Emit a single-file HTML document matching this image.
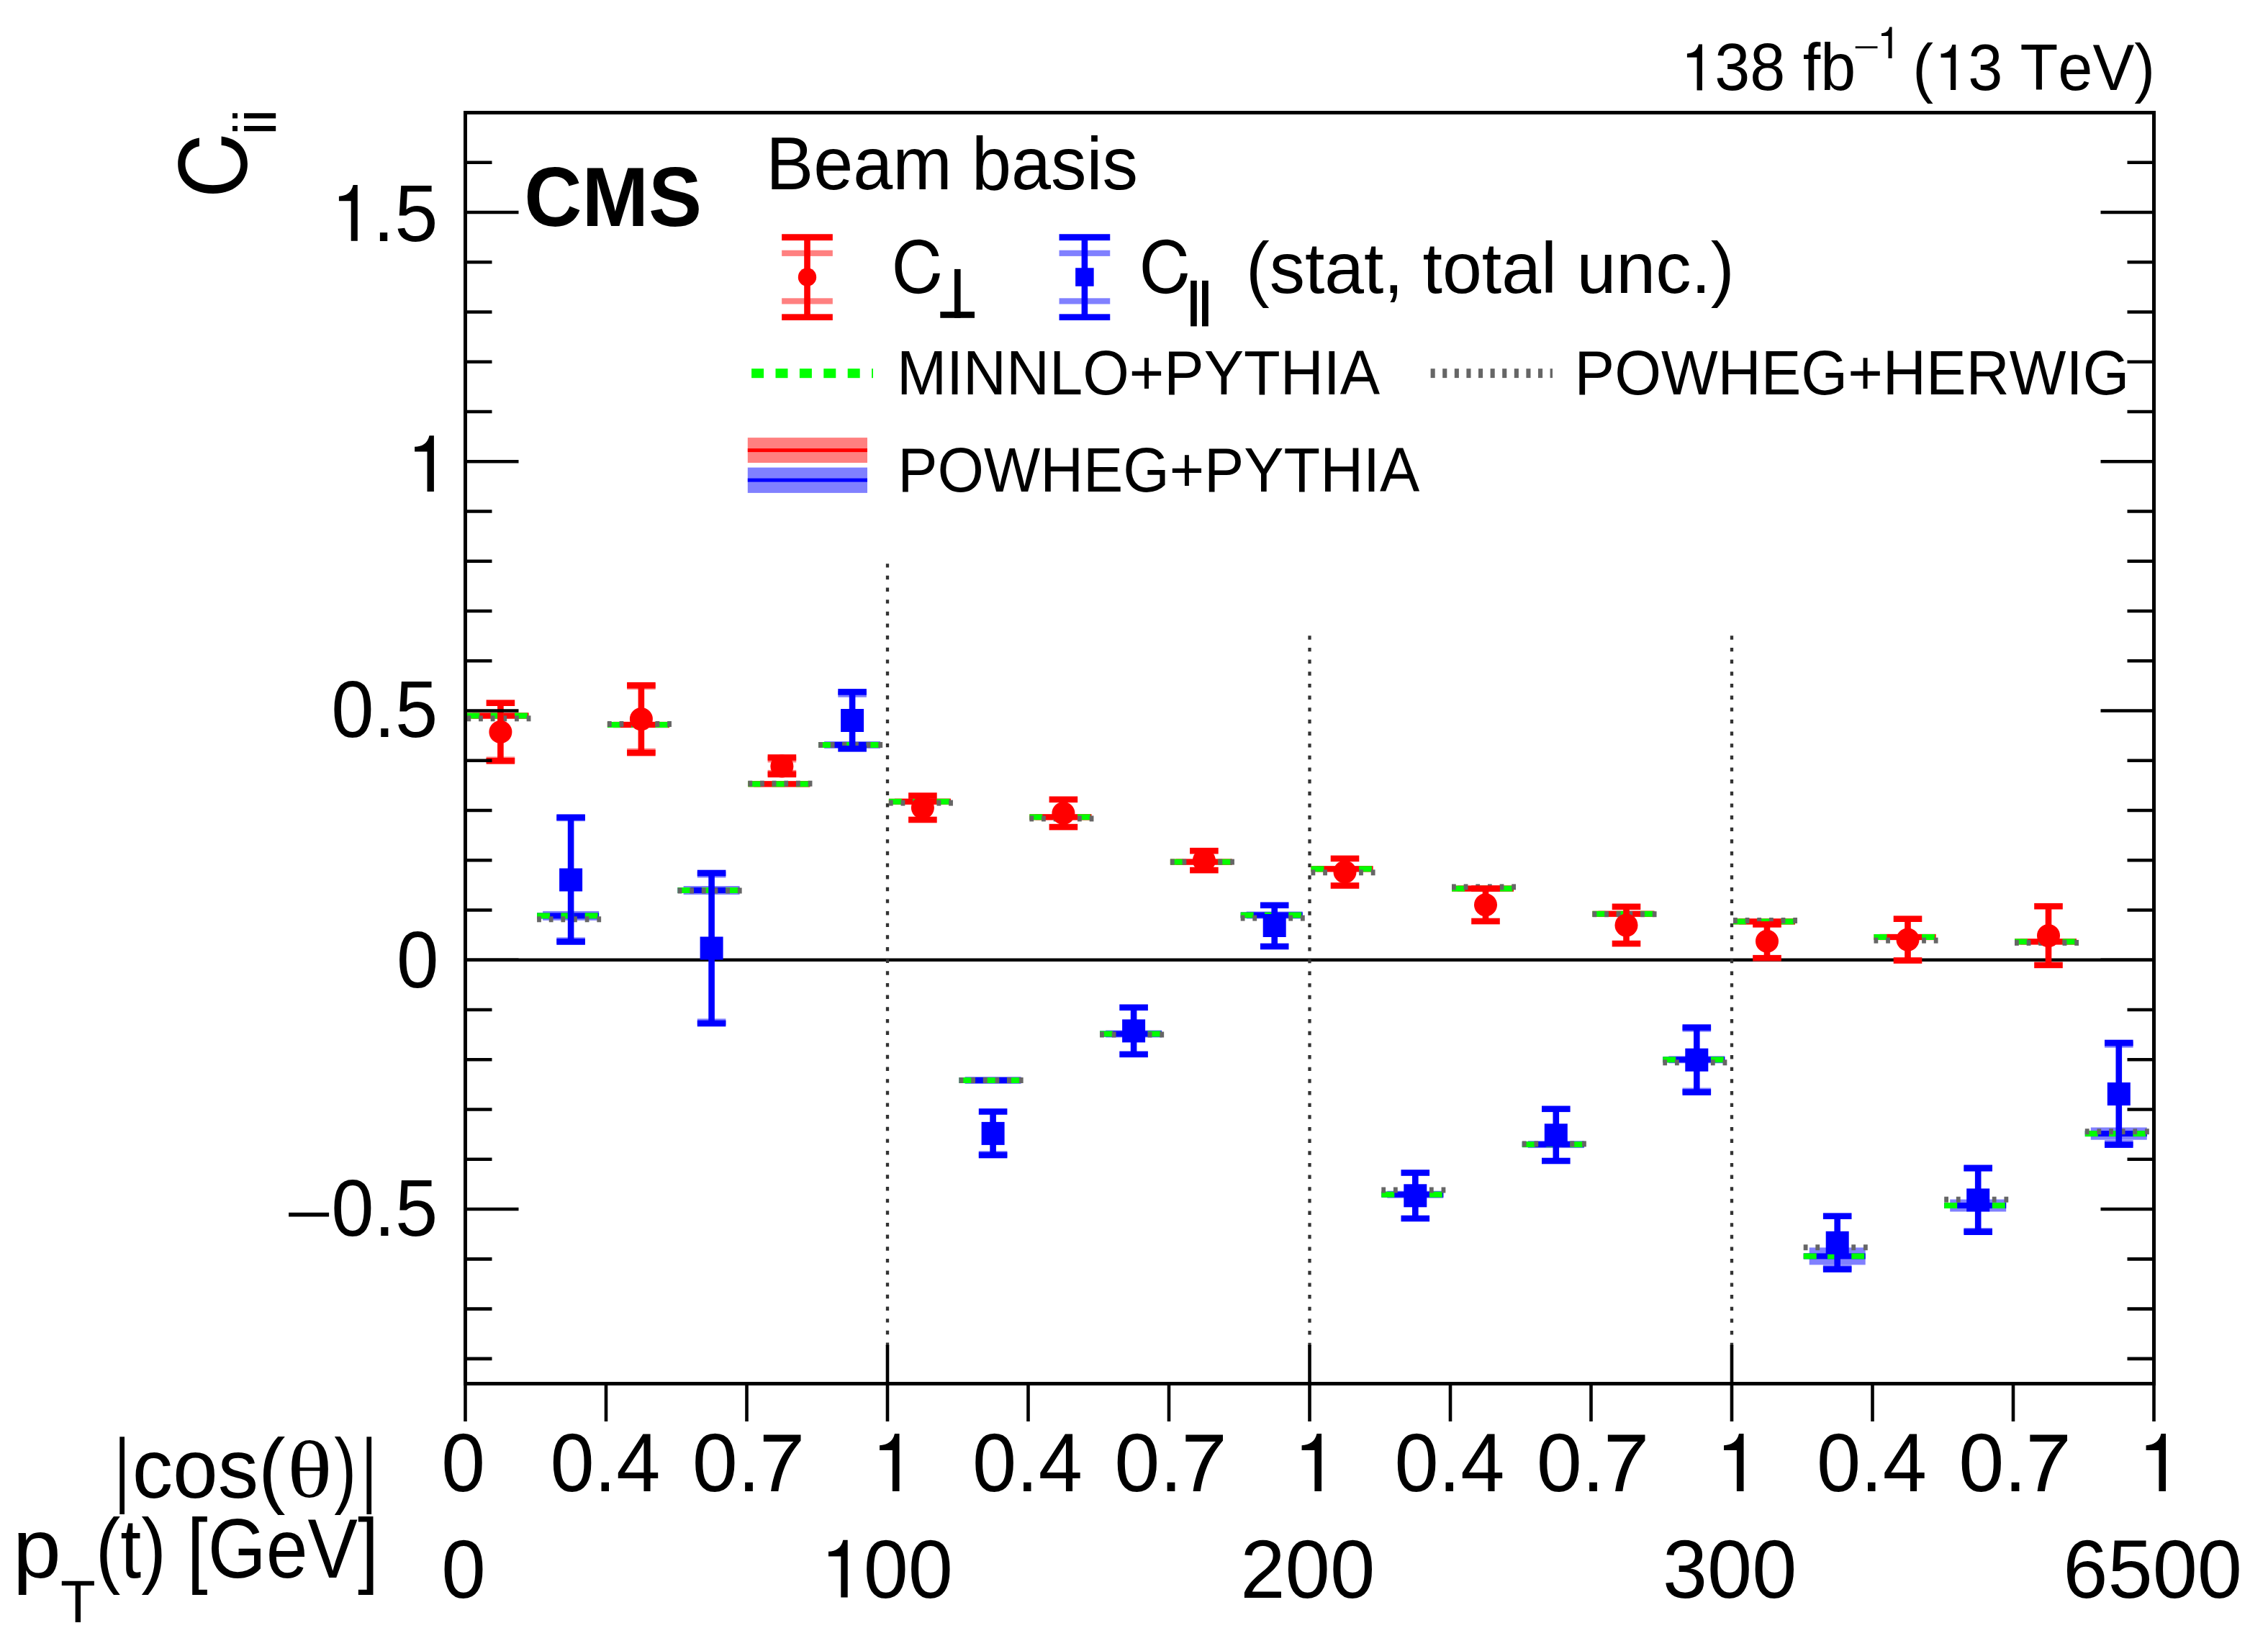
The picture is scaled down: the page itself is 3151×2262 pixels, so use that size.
<!DOCTYPE html>
<html><head><meta charset="utf-8"><title>CMS C_ii beam basis</title>
<style>
html,body{margin:0;padding:0;background:#fff;}
body{width:3151px;height:2262px;overflow:hidden;}
svg{display:block;}
text{font-kerning:none;}
</style></head>
<body>
<svg width="3151" height="2262" viewBox="0 0 3151 2262">
<rect x="0" y="0" width="3151" height="2262" fill="#fff"/>
<line x1="646.5" y1="1333.8" x2="2992.5" y2="1333.8" stroke="#000" stroke-width="4.6"/>
<line x1="1233.00" y1="783.2" x2="1233.00" y2="1870" stroke="#333" stroke-width="4.3" stroke-dasharray="5.4 11.25"/>
<line x1="1819.50" y1="883.3" x2="1819.50" y2="1870" stroke="#333" stroke-width="4.3" stroke-dasharray="5.4 11.25"/>
<line x1="2406.00" y1="883.3" x2="2406.00" y2="1870" stroke="#333" stroke-width="4.3" stroke-dasharray="5.4 11.25"/>
<rect x="656.40" y="990.20" width="78" height="8.60" fill="#ff8080"/>
<rect x="648.40" y="990.50" width="86.00" height="8.0" fill="#ff0000"/>
<rect x="648.40" y="990.50" width="18.00" height="8.0" fill="#00ff00"/>
<rect x="681.70" y="990.50" width="18.00" height="8.0" fill="#00ff00"/>
<rect x="715.00" y="990.50" width="18.00" height="8.0" fill="#00ff00"/>
<rect x="648.40" y="994.30" width="5.8" height="8.0" fill="#666666"/>
<rect x="665.05" y="994.30" width="5.8" height="8.0" fill="#666666"/>
<rect x="681.70" y="994.30" width="5.8" height="8.0" fill="#666666"/>
<rect x="698.35" y="994.30" width="5.8" height="8.0" fill="#666666"/>
<rect x="715.00" y="994.30" width="5.8" height="8.0" fill="#666666"/>
<rect x="731.65" y="994.30" width="5.8" height="8.0" fill="#666666"/>
<rect x="754.10" y="1265.90" width="78" height="13.00" fill="#8080ff"/>
<rect x="746.10" y="1268.40" width="86.00" height="8.0" fill="#0000ff"/>
<rect x="746.10" y="1268.40" width="18.00" height="8.0" fill="#00ff00"/>
<rect x="779.40" y="1268.40" width="18.00" height="8.0" fill="#00ff00"/>
<rect x="812.70" y="1268.40" width="18.00" height="8.0" fill="#00ff00"/>
<rect x="746.10" y="1273.30" width="5.8" height="8.0" fill="#666666"/>
<rect x="762.75" y="1273.30" width="5.8" height="8.0" fill="#666666"/>
<rect x="779.40" y="1273.30" width="5.8" height="8.0" fill="#666666"/>
<rect x="796.05" y="1273.30" width="5.8" height="8.0" fill="#666666"/>
<rect x="812.70" y="1273.30" width="5.8" height="8.0" fill="#666666"/>
<rect x="829.35" y="1273.30" width="5.8" height="8.0" fill="#666666"/>
<rect x="851.90" y="1002.70" width="78" height="8.60" fill="#ff8080"/>
<rect x="843.90" y="1003.00" width="86.00" height="8.0" fill="#ff0000"/>
<rect x="843.90" y="1003.00" width="18.00" height="8.0" fill="#00ff00"/>
<rect x="877.20" y="1003.00" width="18.00" height="8.0" fill="#00ff00"/>
<rect x="910.50" y="1003.00" width="18.00" height="8.0" fill="#00ff00"/>
<rect x="843.90" y="1002.00" width="5.8" height="8.0" fill="#666666"/>
<rect x="860.55" y="1002.00" width="5.8" height="8.0" fill="#666666"/>
<rect x="877.20" y="1002.00" width="5.8" height="8.0" fill="#666666"/>
<rect x="893.85" y="1002.00" width="5.8" height="8.0" fill="#666666"/>
<rect x="910.50" y="1002.00" width="5.8" height="8.0" fill="#666666"/>
<rect x="927.15" y="1002.00" width="5.8" height="8.0" fill="#666666"/>
<rect x="949.60" y="1231.00" width="78" height="12.00" fill="#8080ff"/>
<rect x="941.60" y="1233.00" width="86.00" height="8.0" fill="#0000ff"/>
<rect x="941.60" y="1233.00" width="18.00" height="8.0" fill="#00ff00"/>
<rect x="974.90" y="1233.00" width="18.00" height="8.0" fill="#00ff00"/>
<rect x="1008.20" y="1233.00" width="18.00" height="8.0" fill="#00ff00"/>
<rect x="941.60" y="1233.50" width="5.8" height="8.0" fill="#666666"/>
<rect x="958.25" y="1233.50" width="5.8" height="8.0" fill="#666666"/>
<rect x="974.90" y="1233.50" width="5.8" height="8.0" fill="#666666"/>
<rect x="991.55" y="1233.50" width="5.8" height="8.0" fill="#666666"/>
<rect x="1008.20" y="1233.50" width="5.8" height="8.0" fill="#666666"/>
<rect x="1024.85" y="1233.50" width="5.8" height="8.0" fill="#666666"/>
<rect x="1047.40" y="1085.00" width="78" height="8.60" fill="#ff8080"/>
<rect x="1039.40" y="1085.30" width="86.00" height="8.0" fill="#ff0000"/>
<rect x="1039.40" y="1085.30" width="18.00" height="8.0" fill="#00ff00"/>
<rect x="1072.70" y="1085.30" width="18.00" height="8.0" fill="#00ff00"/>
<rect x="1106.00" y="1085.30" width="18.00" height="8.0" fill="#00ff00"/>
<rect x="1039.40" y="1084.70" width="5.8" height="8.0" fill="#666666"/>
<rect x="1056.05" y="1084.70" width="5.8" height="8.0" fill="#666666"/>
<rect x="1072.70" y="1084.70" width="5.8" height="8.0" fill="#666666"/>
<rect x="1089.35" y="1084.70" width="5.8" height="8.0" fill="#666666"/>
<rect x="1106.00" y="1084.70" width="5.8" height="8.0" fill="#666666"/>
<rect x="1122.65" y="1084.70" width="5.8" height="8.0" fill="#666666"/>
<rect x="1145.10" y="1030.00" width="78" height="10.00" fill="#8080ff"/>
<rect x="1137.10" y="1031.00" width="86.00" height="8.0" fill="#0000ff"/>
<rect x="1137.10" y="1031.00" width="18.00" height="8.0" fill="#00ff00"/>
<rect x="1170.40" y="1031.00" width="18.00" height="8.0" fill="#00ff00"/>
<rect x="1203.70" y="1031.00" width="18.00" height="8.0" fill="#00ff00"/>
<rect x="1137.10" y="1031.00" width="5.8" height="8.0" fill="#666666"/>
<rect x="1153.75" y="1031.00" width="5.8" height="8.0" fill="#666666"/>
<rect x="1170.40" y="1031.00" width="5.8" height="8.0" fill="#666666"/>
<rect x="1187.05" y="1031.00" width="5.8" height="8.0" fill="#666666"/>
<rect x="1203.70" y="1031.00" width="5.8" height="8.0" fill="#666666"/>
<rect x="1220.35" y="1031.00" width="5.8" height="8.0" fill="#666666"/>
<rect x="1242.90" y="1109.50" width="78" height="8.60" fill="#ff8080"/>
<rect x="1234.90" y="1109.80" width="86.00" height="8.0" fill="#ff0000"/>
<rect x="1234.90" y="1109.80" width="18.00" height="8.0" fill="#00ff00"/>
<rect x="1268.20" y="1109.80" width="18.00" height="8.0" fill="#00ff00"/>
<rect x="1301.50" y="1109.80" width="18.00" height="8.0" fill="#00ff00"/>
<rect x="1234.90" y="1111.60" width="5.8" height="8.0" fill="#666666"/>
<rect x="1251.55" y="1111.60" width="5.8" height="8.0" fill="#666666"/>
<rect x="1268.20" y="1111.60" width="5.8" height="8.0" fill="#666666"/>
<rect x="1284.85" y="1111.60" width="5.8" height="8.0" fill="#666666"/>
<rect x="1301.50" y="1111.60" width="5.8" height="8.0" fill="#666666"/>
<rect x="1318.15" y="1111.60" width="5.8" height="8.0" fill="#666666"/>
<rect x="1340.60" y="1496.00" width="78" height="10.00" fill="#8080ff"/>
<rect x="1332.60" y="1497.00" width="86.00" height="8.0" fill="#0000ff"/>
<rect x="1332.60" y="1497.00" width="18.00" height="8.0" fill="#00ff00"/>
<rect x="1365.90" y="1497.00" width="18.00" height="8.0" fill="#00ff00"/>
<rect x="1399.20" y="1497.00" width="18.00" height="8.0" fill="#00ff00"/>
<rect x="1332.60" y="1497.00" width="5.8" height="8.0" fill="#666666"/>
<rect x="1349.25" y="1497.00" width="5.8" height="8.0" fill="#666666"/>
<rect x="1365.90" y="1497.00" width="5.8" height="8.0" fill="#666666"/>
<rect x="1382.55" y="1497.00" width="5.8" height="8.0" fill="#666666"/>
<rect x="1399.20" y="1497.00" width="5.8" height="8.0" fill="#666666"/>
<rect x="1415.85" y="1497.00" width="5.8" height="8.0" fill="#666666"/>
<rect x="1438.40" y="1131.00" width="78" height="8.60" fill="#ff8080"/>
<rect x="1430.40" y="1131.30" width="86.00" height="8.0" fill="#ff0000"/>
<rect x="1430.40" y="1131.30" width="18.00" height="8.0" fill="#00ff00"/>
<rect x="1463.70" y="1131.30" width="18.00" height="8.0" fill="#00ff00"/>
<rect x="1497.00" y="1131.30" width="18.00" height="8.0" fill="#00ff00"/>
<rect x="1430.40" y="1133.40" width="5.8" height="8.0" fill="#666666"/>
<rect x="1447.05" y="1133.40" width="5.8" height="8.0" fill="#666666"/>
<rect x="1463.70" y="1133.40" width="5.8" height="8.0" fill="#666666"/>
<rect x="1480.35" y="1133.40" width="5.8" height="8.0" fill="#666666"/>
<rect x="1497.00" y="1133.40" width="5.8" height="8.0" fill="#666666"/>
<rect x="1513.65" y="1133.40" width="5.8" height="8.0" fill="#666666"/>
<rect x="1536.10" y="1431.50" width="78" height="10.00" fill="#8080ff"/>
<rect x="1528.10" y="1432.50" width="86.00" height="8.0" fill="#0000ff"/>
<rect x="1528.10" y="1432.50" width="18.00" height="8.0" fill="#00ff00"/>
<rect x="1561.40" y="1432.50" width="18.00" height="8.0" fill="#00ff00"/>
<rect x="1594.70" y="1432.50" width="18.00" height="8.0" fill="#00ff00"/>
<rect x="1528.10" y="1433.50" width="5.8" height="8.0" fill="#666666"/>
<rect x="1544.75" y="1433.50" width="5.8" height="8.0" fill="#666666"/>
<rect x="1561.40" y="1433.50" width="5.8" height="8.0" fill="#666666"/>
<rect x="1578.05" y="1433.50" width="5.8" height="8.0" fill="#666666"/>
<rect x="1594.70" y="1433.50" width="5.8" height="8.0" fill="#666666"/>
<rect x="1611.35" y="1433.50" width="5.8" height="8.0" fill="#666666"/>
<rect x="1633.90" y="1193.30" width="78" height="8.60" fill="#ff8080"/>
<rect x="1625.90" y="1193.60" width="86.00" height="8.0" fill="#ff0000"/>
<rect x="1625.90" y="1193.60" width="18.00" height="8.0" fill="#00ff00"/>
<rect x="1659.20" y="1193.60" width="18.00" height="8.0" fill="#00ff00"/>
<rect x="1692.50" y="1193.60" width="18.00" height="8.0" fill="#00ff00"/>
<rect x="1625.90" y="1193.60" width="5.8" height="8.0" fill="#666666"/>
<rect x="1642.55" y="1193.60" width="5.8" height="8.0" fill="#666666"/>
<rect x="1659.20" y="1193.60" width="5.8" height="8.0" fill="#666666"/>
<rect x="1675.85" y="1193.60" width="5.8" height="8.0" fill="#666666"/>
<rect x="1692.50" y="1193.60" width="5.8" height="8.0" fill="#666666"/>
<rect x="1709.15" y="1193.60" width="5.8" height="8.0" fill="#666666"/>
<rect x="1731.70" y="1266.50" width="78" height="10.00" fill="#8080ff"/>
<rect x="1723.70" y="1267.50" width="86.00" height="8.0" fill="#0000ff"/>
<rect x="1723.70" y="1267.50" width="18.00" height="8.0" fill="#00ff00"/>
<rect x="1757.00" y="1267.50" width="18.00" height="8.0" fill="#00ff00"/>
<rect x="1790.30" y="1267.50" width="18.00" height="8.0" fill="#00ff00"/>
<rect x="1723.70" y="1271.60" width="5.8" height="8.0" fill="#666666"/>
<rect x="1740.35" y="1271.60" width="5.8" height="8.0" fill="#666666"/>
<rect x="1757.00" y="1271.60" width="5.8" height="8.0" fill="#666666"/>
<rect x="1773.65" y="1271.60" width="5.8" height="8.0" fill="#666666"/>
<rect x="1790.30" y="1271.60" width="5.8" height="8.0" fill="#666666"/>
<rect x="1806.95" y="1271.60" width="5.8" height="8.0" fill="#666666"/>
<rect x="1829.50" y="1203.00" width="78" height="8.60" fill="#ff8080"/>
<rect x="1821.50" y="1203.30" width="86.00" height="8.0" fill="#ff0000"/>
<rect x="1821.50" y="1203.30" width="18.00" height="8.0" fill="#00ff00"/>
<rect x="1854.80" y="1203.30" width="18.00" height="8.0" fill="#00ff00"/>
<rect x="1888.10" y="1203.30" width="18.00" height="8.0" fill="#00ff00"/>
<rect x="1821.50" y="1208.30" width="5.8" height="8.0" fill="#666666"/>
<rect x="1838.15" y="1208.30" width="5.8" height="8.0" fill="#666666"/>
<rect x="1854.80" y="1208.30" width="5.8" height="8.0" fill="#666666"/>
<rect x="1871.45" y="1208.30" width="5.8" height="8.0" fill="#666666"/>
<rect x="1888.10" y="1208.30" width="5.8" height="8.0" fill="#666666"/>
<rect x="1904.75" y="1208.30" width="5.8" height="8.0" fill="#666666"/>
<rect x="1927.30" y="1654.70" width="78" height="10.00" fill="#8080ff"/>
<rect x="1919.30" y="1655.70" width="86.00" height="8.0" fill="#0000ff"/>
<rect x="1919.30" y="1655.70" width="18.00" height="8.0" fill="#00ff00"/>
<rect x="1952.60" y="1655.70" width="18.00" height="8.0" fill="#00ff00"/>
<rect x="1985.90" y="1655.70" width="18.00" height="8.0" fill="#00ff00"/>
<rect x="1919.30" y="1649.50" width="5.8" height="8.0" fill="#666666"/>
<rect x="1935.95" y="1649.50" width="5.8" height="8.0" fill="#666666"/>
<rect x="1952.60" y="1649.50" width="5.8" height="8.0" fill="#666666"/>
<rect x="1969.25" y="1649.50" width="5.8" height="8.0" fill="#666666"/>
<rect x="1985.90" y="1649.50" width="5.8" height="8.0" fill="#666666"/>
<rect x="2002.55" y="1649.50" width="5.8" height="8.0" fill="#666666"/>
<rect x="2025.00" y="1230.30" width="78" height="8.60" fill="#ff8080"/>
<rect x="2017.00" y="1230.60" width="86.00" height="8.0" fill="#ff0000"/>
<rect x="2017.00" y="1230.60" width="18.00" height="8.0" fill="#00ff00"/>
<rect x="2050.30" y="1230.60" width="18.00" height="8.0" fill="#00ff00"/>
<rect x="2083.60" y="1230.60" width="18.00" height="8.0" fill="#00ff00"/>
<rect x="2017.00" y="1228.40" width="5.8" height="8.0" fill="#666666"/>
<rect x="2033.65" y="1228.40" width="5.8" height="8.0" fill="#666666"/>
<rect x="2050.30" y="1228.40" width="5.8" height="8.0" fill="#666666"/>
<rect x="2066.95" y="1228.40" width="5.8" height="8.0" fill="#666666"/>
<rect x="2083.60" y="1228.40" width="5.8" height="8.0" fill="#666666"/>
<rect x="2100.25" y="1228.40" width="5.8" height="8.0" fill="#666666"/>
<rect x="2122.80" y="1585.10" width="78" height="10.00" fill="#8080ff"/>
<rect x="2114.80" y="1586.10" width="86.00" height="8.0" fill="#0000ff"/>
<rect x="2114.80" y="1586.10" width="18.00" height="8.0" fill="#00ff00"/>
<rect x="2148.10" y="1586.10" width="18.00" height="8.0" fill="#00ff00"/>
<rect x="2181.40" y="1586.10" width="18.00" height="8.0" fill="#00ff00"/>
<rect x="2114.80" y="1585.40" width="5.8" height="8.0" fill="#666666"/>
<rect x="2131.45" y="1585.40" width="5.8" height="8.0" fill="#666666"/>
<rect x="2148.10" y="1585.40" width="5.8" height="8.0" fill="#666666"/>
<rect x="2164.75" y="1585.40" width="5.8" height="8.0" fill="#666666"/>
<rect x="2181.40" y="1585.40" width="5.8" height="8.0" fill="#666666"/>
<rect x="2198.05" y="1585.40" width="5.8" height="8.0" fill="#666666"/>
<rect x="2220.50" y="1265.50" width="78" height="8.60" fill="#ff8080"/>
<rect x="2212.50" y="1265.80" width="86.00" height="8.0" fill="#ff0000"/>
<rect x="2212.50" y="1265.80" width="18.00" height="8.0" fill="#00ff00"/>
<rect x="2245.80" y="1265.80" width="18.00" height="8.0" fill="#00ff00"/>
<rect x="2279.10" y="1265.80" width="18.00" height="8.0" fill="#00ff00"/>
<rect x="2212.50" y="1266.20" width="5.8" height="8.0" fill="#666666"/>
<rect x="2229.15" y="1266.20" width="5.8" height="8.0" fill="#666666"/>
<rect x="2245.80" y="1266.20" width="5.8" height="8.0" fill="#666666"/>
<rect x="2262.45" y="1266.20" width="5.8" height="8.0" fill="#666666"/>
<rect x="2279.10" y="1266.20" width="5.8" height="8.0" fill="#666666"/>
<rect x="2295.75" y="1266.20" width="5.8" height="8.0" fill="#666666"/>
<rect x="2318.30" y="1467.30" width="78" height="10.00" fill="#8080ff"/>
<rect x="2310.30" y="1468.30" width="86.00" height="8.0" fill="#0000ff"/>
<rect x="2310.30" y="1468.30" width="18.00" height="8.0" fill="#00ff00"/>
<rect x="2343.60" y="1468.30" width="18.00" height="8.0" fill="#00ff00"/>
<rect x="2376.90" y="1468.30" width="18.00" height="8.0" fill="#00ff00"/>
<rect x="2310.30" y="1472.30" width="5.8" height="8.0" fill="#666666"/>
<rect x="2326.95" y="1472.30" width="5.8" height="8.0" fill="#666666"/>
<rect x="2343.60" y="1472.30" width="5.8" height="8.0" fill="#666666"/>
<rect x="2360.25" y="1472.30" width="5.8" height="8.0" fill="#666666"/>
<rect x="2376.90" y="1472.30" width="5.8" height="8.0" fill="#666666"/>
<rect x="2393.55" y="1472.30" width="5.8" height="8.0" fill="#666666"/>
<rect x="2416.00" y="1276.10" width="78" height="8.60" fill="#ff8080"/>
<rect x="2408.00" y="1276.40" width="86.00" height="8.0" fill="#ff0000"/>
<rect x="2408.00" y="1276.40" width="18.00" height="8.0" fill="#00ff00"/>
<rect x="2441.30" y="1276.40" width="18.00" height="8.0" fill="#00ff00"/>
<rect x="2474.60" y="1276.40" width="18.00" height="8.0" fill="#00ff00"/>
<rect x="2408.00" y="1275.00" width="5.8" height="8.0" fill="#666666"/>
<rect x="2424.65" y="1275.00" width="5.8" height="8.0" fill="#666666"/>
<rect x="2441.30" y="1275.00" width="5.8" height="8.0" fill="#666666"/>
<rect x="2457.95" y="1275.00" width="5.8" height="8.0" fill="#666666"/>
<rect x="2474.60" y="1275.00" width="5.8" height="8.0" fill="#666666"/>
<rect x="2491.25" y="1275.00" width="5.8" height="8.0" fill="#666666"/>
<rect x="2513.70" y="1733.40" width="78" height="24.00" fill="#8080ff"/>
<rect x="2505.70" y="1741.40" width="86.00" height="8.0" fill="#0000ff"/>
<rect x="2505.70" y="1741.40" width="18.00" height="8.0" fill="#00ff00"/>
<rect x="2539.00" y="1741.40" width="18.00" height="8.0" fill="#00ff00"/>
<rect x="2572.30" y="1741.40" width="18.00" height="8.0" fill="#00ff00"/>
<rect x="2505.70" y="1729.20" width="5.8" height="8.0" fill="#666666"/>
<rect x="2522.35" y="1729.20" width="5.8" height="8.0" fill="#666666"/>
<rect x="2539.00" y="1729.20" width="5.8" height="8.0" fill="#666666"/>
<rect x="2555.65" y="1729.20" width="5.8" height="8.0" fill="#666666"/>
<rect x="2572.30" y="1729.20" width="5.8" height="8.0" fill="#666666"/>
<rect x="2588.95" y="1729.20" width="5.8" height="8.0" fill="#666666"/>
<rect x="2611.50" y="1297.70" width="78" height="8.60" fill="#ff8080"/>
<rect x="2603.50" y="1298.00" width="86.00" height="8.0" fill="#ff0000"/>
<rect x="2603.50" y="1298.00" width="18.00" height="8.0" fill="#00ff00"/>
<rect x="2636.80" y="1298.00" width="18.00" height="8.0" fill="#00ff00"/>
<rect x="2670.10" y="1298.00" width="18.00" height="8.0" fill="#00ff00"/>
<rect x="2603.50" y="1302.70" width="5.8" height="8.0" fill="#666666"/>
<rect x="2620.15" y="1302.70" width="5.8" height="8.0" fill="#666666"/>
<rect x="2636.80" y="1302.70" width="5.8" height="8.0" fill="#666666"/>
<rect x="2653.45" y="1302.70" width="5.8" height="8.0" fill="#666666"/>
<rect x="2670.10" y="1302.70" width="5.8" height="8.0" fill="#666666"/>
<rect x="2686.75" y="1302.70" width="5.8" height="8.0" fill="#666666"/>
<rect x="2709.20" y="1666.50" width="78" height="17.00" fill="#8080ff"/>
<rect x="2701.20" y="1671.00" width="86.00" height="8.0" fill="#0000ff"/>
<rect x="2701.20" y="1671.00" width="18.00" height="8.0" fill="#00ff00"/>
<rect x="2734.50" y="1671.00" width="18.00" height="8.0" fill="#00ff00"/>
<rect x="2767.80" y="1671.00" width="18.00" height="8.0" fill="#00ff00"/>
<rect x="2701.20" y="1662.70" width="5.8" height="8.0" fill="#666666"/>
<rect x="2717.85" y="1662.70" width="5.8" height="8.0" fill="#666666"/>
<rect x="2734.50" y="1662.70" width="5.8" height="8.0" fill="#666666"/>
<rect x="2751.15" y="1662.70" width="5.8" height="8.0" fill="#666666"/>
<rect x="2767.80" y="1662.70" width="5.8" height="8.0" fill="#666666"/>
<rect x="2784.45" y="1662.70" width="5.8" height="8.0" fill="#666666"/>
<rect x="2807.00" y="1304.10" width="78" height="8.60" fill="#ff8080"/>
<rect x="2799.00" y="1304.40" width="86.00" height="8.0" fill="#ff0000"/>
<rect x="2799.00" y="1304.40" width="18.00" height="8.0" fill="#00ff00"/>
<rect x="2832.30" y="1304.40" width="18.00" height="8.0" fill="#00ff00"/>
<rect x="2865.60" y="1304.40" width="18.00" height="8.0" fill="#00ff00"/>
<rect x="2799.00" y="1305.90" width="5.8" height="8.0" fill="#666666"/>
<rect x="2815.65" y="1305.90" width="5.8" height="8.0" fill="#666666"/>
<rect x="2832.30" y="1305.90" width="5.8" height="8.0" fill="#666666"/>
<rect x="2848.95" y="1305.90" width="5.8" height="8.0" fill="#666666"/>
<rect x="2865.60" y="1305.90" width="5.8" height="8.0" fill="#666666"/>
<rect x="2882.25" y="1305.90" width="5.8" height="8.0" fill="#666666"/>
<rect x="2904.80" y="1566.50" width="78" height="17.20" fill="#8080ff"/>
<rect x="2896.80" y="1571.10" width="86.00" height="8.0" fill="#0000ff"/>
<rect x="2896.80" y="1571.10" width="18.00" height="8.0" fill="#00ff00"/>
<rect x="2930.10" y="1571.10" width="18.00" height="8.0" fill="#00ff00"/>
<rect x="2963.40" y="1571.10" width="18.00" height="8.0" fill="#00ff00"/>
<rect x="2896.80" y="1568.20" width="5.8" height="8.0" fill="#666666"/>
<rect x="2913.45" y="1568.20" width="5.8" height="8.0" fill="#666666"/>
<rect x="2930.10" y="1568.20" width="5.8" height="8.0" fill="#666666"/>
<rect x="2946.75" y="1568.20" width="5.8" height="8.0" fill="#666666"/>
<rect x="2963.40" y="1568.20" width="5.8" height="8.0" fill="#666666"/>
<rect x="2980.05" y="1568.20" width="5.8" height="8.0" fill="#666666"/>
<rect x="675.60" y="1051.40" width="39.60" height="8.6" fill="#ff8080"/>
<rect x="691.10" y="976.70" width="8.6" height="80.60" fill="#ff0000"/>
<rect x="675.60" y="972.40" width="39.60" height="8.6" fill="#ff0000"/>
<rect x="675.60" y="1053.00" width="39.60" height="8.6" fill="#ff0000"/>
<circle cx="695.40" cy="1017.00" r="16" fill="#ff0000"/>
<rect x="773.30" y="1132.60" width="39.60" height="8.6" fill="#8080ff"/>
<rect x="773.30" y="1302.40" width="39.60" height="8.6" fill="#8080ff"/>
<rect x="788.80" y="1135.70" width="8.6" height="172.80" fill="#0000ff"/>
<rect x="773.30" y="1131.40" width="39.60" height="8.6" fill="#0000ff"/>
<rect x="773.30" y="1304.20" width="39.60" height="8.6" fill="#0000ff"/>
<rect x="777.10" y="1206.50" width="32" height="32" fill="#0000ff"/>
<rect x="871.10" y="949.50" width="39.60" height="8.6" fill="#ff8080"/>
<rect x="871.10" y="1039.80" width="39.60" height="8.6" fill="#ff8080"/>
<rect x="886.60" y="952.20" width="8.6" height="93.90" fill="#ff0000"/>
<rect x="871.10" y="947.90" width="39.60" height="8.6" fill="#ff0000"/>
<rect x="871.10" y="1041.80" width="39.60" height="8.6" fill="#ff0000"/>
<circle cx="890.90" cy="999.10" r="16" fill="#ff0000"/>
<rect x="968.80" y="1210.90" width="39.60" height="8.6" fill="#8080ff"/>
<rect x="968.80" y="1415.40" width="39.60" height="8.6" fill="#8080ff"/>
<rect x="984.30" y="1213.00" width="8.6" height="209.00" fill="#0000ff"/>
<rect x="968.80" y="1208.70" width="39.60" height="8.6" fill="#0000ff"/>
<rect x="968.80" y="1417.70" width="39.60" height="8.6" fill="#0000ff"/>
<rect x="972.60" y="1301.50" width="32" height="32" fill="#0000ff"/>
<rect x="1066.60" y="1050.80" width="39.60" height="8.6" fill="#ff8080"/>
<rect x="1066.60" y="1069.80" width="39.60" height="8.6" fill="#ff8080"/>
<rect x="1082.10" y="1052.50" width="8.6" height="23.40" fill="#ff0000"/>
<rect x="1066.60" y="1048.20" width="39.60" height="8.6" fill="#ff0000"/>
<rect x="1066.60" y="1071.60" width="39.60" height="8.6" fill="#ff0000"/>
<circle cx="1086.40" cy="1064.50" r="16" fill="#ff0000"/>
<rect x="1164.30" y="960.20" width="39.60" height="8.6" fill="#8080ff"/>
<rect x="1179.80" y="961.40" width="8.6" height="78.90" fill="#0000ff"/>
<rect x="1164.30" y="957.10" width="39.60" height="8.6" fill="#0000ff"/>
<rect x="1164.30" y="1036.00" width="39.60" height="8.6" fill="#0000ff"/>
<rect x="1168.10" y="985.00" width="32" height="32" fill="#0000ff"/>
<rect x="1277.60" y="1105.60" width="8.6" height="33.40" fill="#ff0000"/>
<rect x="1262.10" y="1101.30" width="39.60" height="8.6" fill="#ff0000"/>
<rect x="1262.10" y="1134.70" width="39.60" height="8.6" fill="#ff0000"/>
<circle cx="1281.90" cy="1122.30" r="16" fill="#ff0000"/>
<rect x="1359.80" y="1599.20" width="39.60" height="8.6" fill="#8080ff"/>
<rect x="1375.30" y="1544.50" width="8.6" height="60.50" fill="#0000ff"/>
<rect x="1359.80" y="1540.20" width="39.60" height="8.6" fill="#0000ff"/>
<rect x="1359.80" y="1600.70" width="39.60" height="8.6" fill="#0000ff"/>
<rect x="1363.60" y="1558.90" width="32" height="32" fill="#0000ff"/>
<rect x="1473.10" y="1110.80" width="8.6" height="38.30" fill="#ff0000"/>
<rect x="1457.60" y="1106.50" width="39.60" height="8.6" fill="#ff0000"/>
<rect x="1457.60" y="1144.80" width="39.60" height="8.6" fill="#ff0000"/>
<circle cx="1477.40" cy="1130.00" r="16" fill="#ff0000"/>
<rect x="1570.80" y="1399.80" width="8.6" height="65.10" fill="#0000ff"/>
<rect x="1555.30" y="1395.50" width="39.60" height="8.6" fill="#0000ff"/>
<rect x="1555.30" y="1460.60" width="39.60" height="8.6" fill="#0000ff"/>
<rect x="1559.10" y="1416.40" width="32" height="32" fill="#0000ff"/>
<rect x="1668.60" y="1182.20" width="8.6" height="26.90" fill="#ff0000"/>
<rect x="1653.10" y="1177.90" width="39.60" height="8.6" fill="#ff0000"/>
<rect x="1653.10" y="1204.80" width="39.60" height="8.6" fill="#ff0000"/>
<circle cx="1672.90" cy="1195.60" r="16" fill="#ff0000"/>
<rect x="1766.40" y="1257.80" width="8.6" height="57.20" fill="#0000ff"/>
<rect x="1750.90" y="1253.50" width="39.60" height="8.6" fill="#0000ff"/>
<rect x="1750.90" y="1310.70" width="39.60" height="8.6" fill="#0000ff"/>
<rect x="1754.70" y="1270.00" width="32" height="32" fill="#0000ff"/>
<rect x="1864.20" y="1192.90" width="8.6" height="37.60" fill="#ff0000"/>
<rect x="1848.70" y="1188.60" width="39.60" height="8.6" fill="#ff0000"/>
<rect x="1848.70" y="1226.20" width="39.60" height="8.6" fill="#ff0000"/>
<circle cx="1868.50" cy="1211.50" r="16" fill="#ff0000"/>
<rect x="1962.00" y="1629.50" width="8.6" height="63.50" fill="#0000ff"/>
<rect x="1946.50" y="1625.20" width="39.60" height="8.6" fill="#0000ff"/>
<rect x="1946.50" y="1688.70" width="39.60" height="8.6" fill="#0000ff"/>
<rect x="1950.30" y="1645.30" width="32" height="32" fill="#0000ff"/>
<rect x="2059.70" y="1234.60" width="8.6" height="45.40" fill="#ff0000"/>
<rect x="2044.20" y="1230.30" width="39.60" height="8.6" fill="#ff0000"/>
<rect x="2044.20" y="1275.70" width="39.60" height="8.6" fill="#ff0000"/>
<circle cx="2064.00" cy="1257.20" r="16" fill="#ff0000"/>
<rect x="2157.50" y="1540.80" width="8.6" height="72.20" fill="#0000ff"/>
<rect x="2142.00" y="1536.50" width="39.60" height="8.6" fill="#0000ff"/>
<rect x="2142.00" y="1608.70" width="39.60" height="8.6" fill="#0000ff"/>
<rect x="2145.80" y="1561.30" width="32" height="32" fill="#0000ff"/>
<rect x="2255.20" y="1259.80" width="8.6" height="51.30" fill="#ff0000"/>
<rect x="2239.70" y="1255.50" width="39.60" height="8.6" fill="#ff0000"/>
<rect x="2239.70" y="1306.80" width="39.60" height="8.6" fill="#ff0000"/>
<circle cx="2259.50" cy="1285.60" r="16" fill="#ff0000"/>
<rect x="2337.50" y="1425.10" width="39.60" height="8.6" fill="#8080ff"/>
<rect x="2337.50" y="1511.50" width="39.60" height="8.6" fill="#8080ff"/>
<rect x="2353.00" y="1427.60" width="8.6" height="90.00" fill="#0000ff"/>
<rect x="2337.50" y="1423.30" width="39.60" height="8.6" fill="#0000ff"/>
<rect x="2337.50" y="1513.30" width="39.60" height="8.6" fill="#0000ff"/>
<rect x="2341.30" y="1456.70" width="32" height="32" fill="#0000ff"/>
<rect x="2450.70" y="1284.40" width="8.6" height="46.80" fill="#ff0000"/>
<rect x="2435.20" y="1280.10" width="39.60" height="8.6" fill="#ff0000"/>
<rect x="2435.20" y="1326.90" width="39.60" height="8.6" fill="#ff0000"/>
<circle cx="2455.00" cy="1307.70" r="16" fill="#ff0000"/>
<rect x="2532.90" y="1757.30" width="39.60" height="8.6" fill="#8080ff"/>
<rect x="2548.40" y="1689.70" width="8.6" height="73.90" fill="#0000ff"/>
<rect x="2532.90" y="1685.40" width="39.60" height="8.6" fill="#0000ff"/>
<rect x="2532.90" y="1759.30" width="39.60" height="8.6" fill="#0000ff"/>
<rect x="2536.70" y="1710.80" width="32" height="32" fill="#0000ff"/>
<rect x="2646.20" y="1276.70" width="8.6" height="57.80" fill="#ff0000"/>
<rect x="2630.70" y="1272.40" width="39.60" height="8.6" fill="#ff0000"/>
<rect x="2630.70" y="1330.20" width="39.60" height="8.6" fill="#ff0000"/>
<circle cx="2650.50" cy="1305.60" r="16" fill="#ff0000"/>
<rect x="2728.40" y="1619.50" width="39.60" height="8.6" fill="#8080ff"/>
<rect x="2728.40" y="1706.00" width="39.60" height="8.6" fill="#8080ff"/>
<rect x="2743.90" y="1622.80" width="8.6" height="88.90" fill="#0000ff"/>
<rect x="2728.40" y="1618.50" width="39.60" height="8.6" fill="#0000ff"/>
<rect x="2728.40" y="1707.40" width="39.60" height="8.6" fill="#0000ff"/>
<rect x="2732.20" y="1651.40" width="32" height="32" fill="#0000ff"/>
<rect x="2841.70" y="1259.20" width="8.6" height="81.70" fill="#ff0000"/>
<rect x="2826.20" y="1254.90" width="39.60" height="8.6" fill="#ff0000"/>
<rect x="2826.20" y="1336.60" width="39.60" height="8.6" fill="#ff0000"/>
<circle cx="2846.00" cy="1300.10" r="16" fill="#ff0000"/>
<rect x="2924.00" y="1447.10" width="39.60" height="8.6" fill="#8080ff"/>
<rect x="2924.00" y="1584.10" width="39.60" height="8.6" fill="#8080ff"/>
<rect x="2939.50" y="1449.00" width="8.6" height="141.60" fill="#0000ff"/>
<rect x="2924.00" y="1444.70" width="39.60" height="8.6" fill="#0000ff"/>
<rect x="2924.00" y="1586.30" width="39.60" height="8.6" fill="#0000ff"/>
<rect x="2927.80" y="1504.00" width="32" height="32" fill="#0000ff"/>
<rect x="646.5" y="156.5" width="2346.0" height="1766.0" fill="none" stroke="#000" stroke-width="5"/>
<path d="M646.5,1887.84H683.5M2992.5,1887.84H2955.5M646.5,1818.58H683.5M2992.5,1818.58H2955.5M646.5,1749.33H683.5M2992.5,1749.33H2955.5M646.5,1680.07H720.5M2992.5,1680.07H2918.5M646.5,1610.82H683.5M2992.5,1610.82H2955.5M646.5,1541.57H683.5M2992.5,1541.57H2955.5M646.5,1472.31H683.5M2992.5,1472.31H2955.5M646.5,1403.05H683.5M2992.5,1403.05H2955.5M646.5,1333.80H720.5M2992.5,1333.80H2918.5M646.5,1264.55H683.5M2992.5,1264.55H2955.5M646.5,1195.29H683.5M2992.5,1195.29H2955.5M646.5,1126.03H683.5M2992.5,1126.03H2955.5M646.5,1056.78H683.5M2992.5,1056.78H2955.5M646.5,987.52H720.5M2992.5,987.52H2918.5M646.5,918.27H683.5M2992.5,918.27H2955.5M646.5,849.02H683.5M2992.5,849.02H2955.5M646.5,779.76H683.5M2992.5,779.76H2955.5M646.5,710.50H683.5M2992.5,710.50H2955.5M646.5,641.25H720.5M2992.5,641.25H2918.5M646.5,571.99H683.5M2992.5,571.99H2955.5M646.5,502.74H683.5M2992.5,502.74H2955.5M646.5,433.49H683.5M2992.5,433.49H2955.5M646.5,364.23H683.5M2992.5,364.23H2955.5M646.5,294.98H720.5M2992.5,294.98H2918.5M646.5,225.72H683.5M2992.5,225.72H2955.5M646.50,1922.5V1975M842.00,1922.5V1975M1037.50,1922.5V1975M1233.00,1922.5V1975M1233.00,1922.5V1868.8M1428.50,1922.5V1975M1624.00,1922.5V1975M1819.50,1922.5V1975M1819.50,1922.5V1868.8M2015.00,1922.5V1975M2210.50,1922.5V1975M2406.00,1922.5V1975M2406.00,1922.5V1868.8M2601.50,1922.5V1975M2797.00,1922.5V1975M2992.50,1922.5V1975" stroke="#000" stroke-width="4.6" fill="none"/>
<rect x="1086.15" y="347.70" width="70.7" height="8.2" fill="#ff8080"/>
<rect x="1086.15" y="414.30" width="70.7" height="8.2" fill="#ff8080"/>
<rect x="1117.20" y="329.7" width="8.6" height="111.00" fill="#ff0000"/>
<rect x="1086.15" y="325.25" width="70.7" height="8.9" fill="#ff0000"/>
<rect x="1086.15" y="436.35" width="70.7" height="8.7" fill="#ff0000"/>
<circle cx="1121.50" cy="384.90" r="12.7" fill="#ff0000"/>
<rect x="1471.55" y="347.70" width="70.7" height="8.2" fill="#8080ff"/>
<rect x="1471.55" y="414.30" width="70.7" height="8.2" fill="#8080ff"/>
<rect x="1502.60" y="329.7" width="8.6" height="111.00" fill="#0000ff"/>
<rect x="1471.55" y="325.25" width="70.7" height="8.9" fill="#0000ff"/>
<rect x="1471.55" y="436.35" width="70.7" height="8.7" fill="#0000ff"/>
<rect x="1494.15" y="372.25" width="25.5" height="25.5" fill="#0000ff"/>
<rect x="1044.10" y="512.2" width="17.00" height="13" fill="#00ff00"/>
<rect x="1077.50" y="512.2" width="17.00" height="13" fill="#00ff00"/>
<rect x="1110.90" y="512.2" width="17.00" height="13" fill="#00ff00"/>
<rect x="1144.30" y="512.2" width="17.00" height="13" fill="#00ff00"/>
<rect x="1177.70" y="512.2" width="17.00" height="13" fill="#00ff00"/>
<rect x="1211.10" y="512.2" width="1.90" height="13" fill="#00ff00"/>
<rect x="1987.60" y="512.2" width="6.10" height="12.9" fill="#666666"/>
<rect x="2004.20" y="512.2" width="6.10" height="12.9" fill="#666666"/>
<rect x="2020.80" y="512.2" width="6.10" height="12.9" fill="#666666"/>
<rect x="2037.40" y="512.2" width="6.10" height="12.9" fill="#666666"/>
<rect x="2054.00" y="512.2" width="6.10" height="12.9" fill="#666666"/>
<rect x="2070.60" y="512.2" width="6.10" height="12.9" fill="#666666"/>
<rect x="2087.20" y="512.2" width="6.10" height="12.9" fill="#666666"/>
<rect x="2103.80" y="512.2" width="6.10" height="12.9" fill="#666666"/>
<rect x="2120.40" y="512.2" width="6.10" height="12.9" fill="#666666"/>
<rect x="2137.00" y="512.2" width="6.10" height="12.9" fill="#666666"/>
<rect x="2153.60" y="512.2" width="3.40" height="12.9" fill="#666666"/>
<rect x="1038.8" y="608.1" width="166.2" height="34.9" fill="#ff8080"/>
<rect x="1038.8" y="623.1" width="166.2" height="5" fill="#ff0000"/>
<rect x="1038.8" y="649.6" width="166.2" height="35.3" fill="#8080ff"/>
<rect x="1038.8" y="664.6" width="166.2" height="5" fill="#0000ff"/>
<rect x="1326" y="373.9" width="8.6" height="67.9" fill="#000"/>
<rect x="1306.3" y="433" width="47.7" height="8.8" fill="#000"/>
<rect x="1654.1" y="389.9" width="8.7" height="63.5" fill="#000"/>
<rect x="1670.0" y="389.9" width="8.8" height="63.5" fill="#000"/>
<rect x="2577.7" y="64.3" width="30.8" height="2.9" fill="#000"/>
<rect x="401.1" y="1684.8" width="56.0" height="5.7" fill="#000"/>
<rect x="166.3" y="1996.3" width="6.7" height="107.7" fill="#000"/>
<rect x="509.4" y="1996.3" width="6.7" height="107.7" fill="#000"/>
<path transform="translate(2333.33,125.40) scale(0.08812,-0.09200)" d="M359,0L359,694L302,694C279,594 213,560 120,554L120,495L275,495L275,0Z" fill="#000"/>
<text transform="translate(2382.32,125.40) scale(0.9578,1)" font-family="'Liberation Sans', sans-serif" font-weight="normal" font-size="92.00" fill="#000" xml:space="preserve">38 fb</text>
<path transform="translate(2606.67,80.90) scale(0.06109,-0.06240)" d="M359,0L359,694L302,694C279,594 213,560 120,554L120,495L275,495L275,0Z" fill="#000"/>
<text transform="translate(2657.33,124.90) scale(0.9534,1)" font-family="'Liberation Sans', sans-serif" font-weight="normal" font-size="90.80" fill="#000" xml:space="preserve">(</text>
<path transform="translate(2686.16,124.90) scale(0.08656,-0.09080)" d="M359,0L359,694L302,694C279,594 213,560 120,554L120,495L275,495L275,0Z" fill="#000"/>
<text transform="translate(2734.29,124.90) scale(0.9534,1)" font-family="'Liberation Sans', sans-serif" font-weight="normal" font-size="90.80" fill="#000" xml:space="preserve">3 TeV)</text>
<text transform="translate(728.24,313.80) scale(0.9476,1)" font-family="'Liberation Sans', sans-serif" font-weight="bold" font-size="117.30" fill="#000" xml:space="preserve">CMS</text>
<text transform="translate(1064.18,262.90) scale(0.9486,1)" font-family="'Liberation Sans', sans-serif" font-weight="normal" font-size="104.30" fill="#000" xml:space="preserve">Beam basis</text>
<path transform="matrix(0.079872,0,0,0.079788,1243.60,332.80)" d="M760,290C735,110 590,0 405,0C160,0 0,190 0,475C0,760 160,945 405,945C610,945 750,820 780,590L660,590C640,760 545,850 405,850C225,850 115,700 115,475C115,250 230,100 405,100C540,100 625,180 645,290Z" fill="#000"/>
<path transform="matrix(0.079872,0,0,0.079788,1587.60,332.80)" d="M760,290C735,110 590,0 405,0C160,0 0,190 0,475C0,760 160,945 405,945C610,945 750,820 780,590L660,590C640,760 545,850 405,850C225,850 115,700 115,475C115,250 230,100 405,100C540,100 625,180 645,290Z" fill="#000"/>
<text transform="translate(1730.99,406.80) scale(0.9846,1)" font-family="'Liberation Sans', sans-serif" font-weight="normal" font-size="100.00" fill="#000" xml:space="preserve">(stat,</text>
<text transform="translate(1976.51,406.80) scale(0.9866,1)" font-family="'Liberation Sans', sans-serif" font-weight="normal" font-size="100.00" fill="#000" xml:space="preserve">total unc.)</text>
<text transform="translate(1245.89,547.60) scale(0.9436,1)" font-family="'Liberation Sans', sans-serif" font-weight="normal" font-size="88.00" fill="#000" xml:space="preserve">MINNLO+PYTHIA</text>
<text transform="translate(2187.56,548.00) scale(0.9471,1)" font-family="'Liberation Sans', sans-serif" font-weight="normal" font-size="88.00" fill="#000" xml:space="preserve">POWHEG+HERWIG</text>
<text transform="translate(1247.30,682.50) scale(0.9415,1)" font-family="'Liberation Sans', sans-serif" font-weight="normal" font-size="88.00" fill="#000" xml:space="preserve">POWHEG+PYTHIA</text>
<path transform="translate(457.90,334.80) scale(0.10831,-0.11200)" d="M359,0L359,694L302,694C279,594 213,560 120,554L120,495L275,495L275,0Z" fill="#000"/>
<text transform="translate(518.12,334.80) scale(0.9670,1)" font-family="'Liberation Sans', sans-serif" font-weight="normal" font-size="112.00" fill="#000" xml:space="preserve">.5</text>
<path transform="translate(562.69,682.90) scale(0.11200,-0.11200)" d="M359,0L359,694L302,694C279,594 213,560 120,554L120,495L275,495L275,0Z" fill="#000"/>
<text transform="translate(460.14,1023.50) scale(0.9515,1)" font-family="'Liberation Sans', sans-serif" font-weight="normal" font-size="112.00" fill="#000" xml:space="preserve">0.5</text>
<text transform="translate(550.90,1372.40) scale(0.9376,1)" font-family="'Liberation Sans', sans-serif" font-weight="normal" font-size="112.00" fill="#000" xml:space="preserve">0</text>
<text transform="translate(460.14,1716.50) scale(0.9515,1)" font-family="'Liberation Sans', sans-serif" font-weight="normal" font-size="112.00" fill="#000" xml:space="preserve">0.5</text>
<text transform="translate(613.33,2071.90) scale(0.9496,1)" font-family="'Liberation Sans', sans-serif" font-weight="normal" font-size="115.00" fill="#000" xml:space="preserve">0</text>
<text transform="translate(764.46,2071.90) scale(0.9559,1)" font-family="'Liberation Sans', sans-serif" font-weight="normal" font-size="115.00" fill="#000" xml:space="preserve">0.4</text>
<text transform="translate(961.67,2071.90) scale(0.9868,1)" font-family="'Liberation Sans', sans-serif" font-weight="normal" font-size="115.00" fill="#000" xml:space="preserve">0.</text>
<path transform="translate(1056.31,2071.90) scale(0.11348,-0.11500)" d="M40,682.2L495.2,682.2L495.2,610.4C400,500 270,320 220.4,0L130.2,0C175,300 300,500 406.3,598.2L40,598.2Z" fill="#000"/>
<path transform="translate(1208.26,2071.90) scale(0.11500,-0.11500)" d="M359,0L359,694L302,694C279,594 213,560 120,554L120,495L275,495L275,0Z" fill="#000"/>
<text transform="translate(1350.96,2071.90) scale(0.9559,1)" font-family="'Liberation Sans', sans-serif" font-weight="normal" font-size="115.00" fill="#000" xml:space="preserve">0.4</text>
<text transform="translate(1548.17,2071.90) scale(0.9868,1)" font-family="'Liberation Sans', sans-serif" font-weight="normal" font-size="115.00" fill="#000" xml:space="preserve">0.</text>
<path transform="translate(1642.81,2071.90) scale(0.11348,-0.11500)" d="M40,682.2L495.2,682.2L495.2,610.4C400,500 270,320 220.4,0L130.2,0C175,300 300,500 406.3,598.2L40,598.2Z" fill="#000"/>
<path transform="translate(1794.76,2071.90) scale(0.11500,-0.11500)" d="M359,0L359,694L302,694C279,594 213,560 120,554L120,495L275,495L275,0Z" fill="#000"/>
<text transform="translate(1937.46,2071.90) scale(0.9559,1)" font-family="'Liberation Sans', sans-serif" font-weight="normal" font-size="115.00" fill="#000" xml:space="preserve">0.4</text>
<text transform="translate(2134.67,2071.90) scale(0.9868,1)" font-family="'Liberation Sans', sans-serif" font-weight="normal" font-size="115.00" fill="#000" xml:space="preserve">0.</text>
<path transform="translate(2229.31,2071.90) scale(0.11348,-0.11500)" d="M40,682.2L495.2,682.2L495.2,610.4C400,500 270,320 220.4,0L130.2,0C175,300 300,500 406.3,598.2L40,598.2Z" fill="#000"/>
<path transform="translate(2381.26,2071.90) scale(0.11500,-0.11500)" d="M359,0L359,694L302,694C279,594 213,560 120,554L120,495L275,495L275,0Z" fill="#000"/>
<text transform="translate(2523.96,2071.90) scale(0.9559,1)" font-family="'Liberation Sans', sans-serif" font-weight="normal" font-size="115.00" fill="#000" xml:space="preserve">0.4</text>
<text transform="translate(2721.17,2071.90) scale(0.9868,1)" font-family="'Liberation Sans', sans-serif" font-weight="normal" font-size="115.00" fill="#000" xml:space="preserve">0.</text>
<path transform="translate(2815.81,2071.90) scale(0.11348,-0.11500)" d="M40,682.2L495.2,682.2L495.2,610.4C400,500 270,320 220.4,0L130.2,0C175,300 300,500 406.3,598.2L40,598.2Z" fill="#000"/>
<path transform="translate(2967.76,2071.90) scale(0.11500,-0.11500)" d="M359,0L359,694L302,694C279,594 213,560 120,554L120,495L275,495L275,0Z" fill="#000"/>
<text transform="translate(613.28,2219.50) scale(0.9623,1)" font-family="'Liberation Sans', sans-serif" font-weight="normal" font-size="115.00" fill="#000" xml:space="preserve">0</text>
<path transform="translate(1137.59,2219.50) scale(0.11171,-0.11500)" d="M359,0L359,694L302,694C279,594 213,560 120,554L120,495L275,495L275,0Z" fill="#000"/>
<text transform="translate(1199.71,2219.50) scale(0.9714,1)" font-family="'Liberation Sans', sans-serif" font-weight="normal" font-size="115.00" fill="#000" xml:space="preserve">00</text>
<text transform="translate(1723.16,2219.50) scale(0.9758,1)" font-family="'Liberation Sans', sans-serif" font-weight="normal" font-size="115.00" fill="#000" xml:space="preserve">200</text>
<text transform="translate(2309.94,2219.50) scale(0.9716,1)" font-family="'Liberation Sans', sans-serif" font-weight="normal" font-size="115.00" fill="#000" xml:space="preserve">300</text>
<text transform="translate(2866.32,2219.50) scale(0.9723,1)" font-family="'Liberation Sans', sans-serif" font-weight="normal" font-size="115.00" fill="#000" xml:space="preserve">6500</text>
<text transform="translate(183.71,2081.30) scale(0.9717,1)" font-family="'Liberation Sans', sans-serif" font-weight="normal" font-size="116.00" fill="#000" xml:space="preserve">cos(</text>
<text transform="translate(398.89,2080.30) scale(1.1540,1)" font-family="'Liberation Serif', serif" font-weight="normal" font-size="112.98" fill="#000">θ</text>
<text transform="translate(464.16,2081.30) scale(0.7998,1)" font-family="'Liberation Sans', sans-serif" font-weight="normal" font-size="116.00" fill="#000" xml:space="preserve">)</text>
<text transform="translate(17.82,2191.50) scale(1.0409,1)" font-family="'Liberation Sans', sans-serif" font-weight="normal" font-size="116.00" fill="#000" xml:space="preserve">p</text>
<text transform="translate(83.91,2254.10) scale(0.9496,1)" font-family="'Liberation Sans', sans-serif" font-weight="normal" font-size="84.00" fill="#000" xml:space="preserve">T</text>
<text transform="translate(132.65,2191.50) scale(0.8973,1)" font-family="'Liberation Sans', sans-serif" font-weight="normal" font-size="116.00" fill="#000" xml:space="preserve">(t) [GeV]</text>
<path transform="matrix(0,-0.102051,0.102328,0,247.2,269.0)" d="M760,290C735,110 590,0 405,0C160,0 0,190 0,475C0,760 160,945 405,945C610,945 750,820 780,590L660,590C640,760 545,850 405,850C225,850 115,700 115,475C115,250 230,100 405,100C540,100 625,180 645,290Z" fill="#000"/>
<text transform="translate(383.90,187.47) rotate(-90) scale(0.9603,1)" font-family="'Liberation Sans', sans-serif" font-weight="normal" font-size="83.63" fill="#000">ii</text>
</svg>
</body></html>
